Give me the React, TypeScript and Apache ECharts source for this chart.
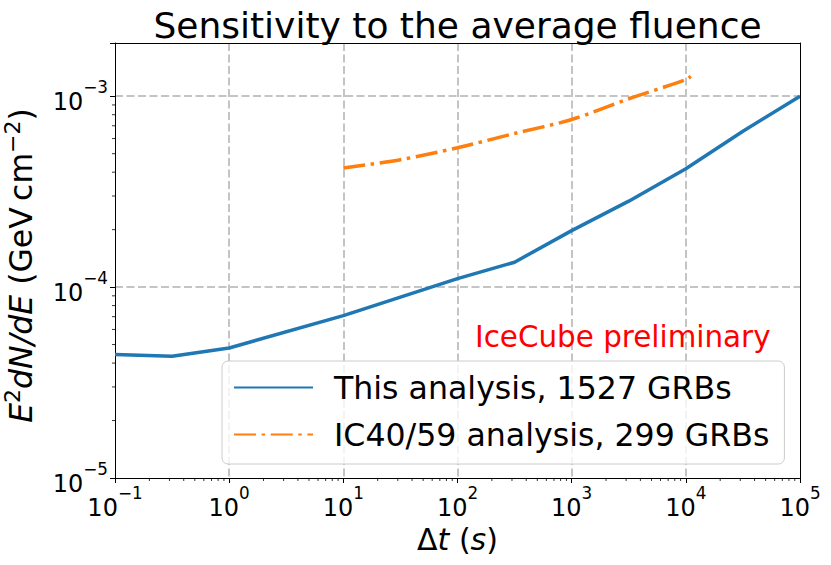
import React, { useEffect, useRef } from "react";
import * as echarts from "echarts";

// ---- data ----
const blueX = [0.1, 0.316, 1, 10, 100, 316, 1000, 3162, 10000, 31623, 100000];
const blueY = [4.43e-5, 4.34e-5, 4.8e-5, 7.09e-5, 1.108e-4, 1.35e-4, 1.977e-4, 2.82e-4, 4.17e-4, 6.56e-4, 1.0e-3];
const orangeX = [10, 31.6, 100, 316, 1000, 3162, 10000, 11070];
const orangeY = [4.21e-4, 4.65e-4, 5.37e-4, 6.38e-4, 7.55e-4, 9.7e-4, 1.22e-3, 1.27e-3];
const seriesNames = ["This analysis, 1527 GRBs", "IC40/59 analysis, 299 GRBs"];
const titleText = "Sensitivity to the average fluence";
const noteText = "IceCube preliminary";

// axis ranges and minor tick definitions
const xRange = [0.1, 100000];
const yRange = [1e-5, 1.9e-3];
const minorMultipliers = [2, 3, 4, 5, 6, 7, 8, 9];
const xDecades = [0.1, 1, 10, 100, 1000, 10000];
const yDecades = [1e-5, 1e-4, 1e-3];

const FONT = "DejaVu Sans";

function supLabel(v: number): string {
  const e = Math.log10(v);
  const r = Math.round(e);
  if (Math.abs(e - r) > 1e-6) return "";
  const s = r < 0 ? "\u2212" + -r : String(r);
  return "{b|10}{s|" + s + "}";
}

export default function App() {
  const ref = useRef<HTMLDivElement>(null);
  useEffect(() => {
    document.body.style.margin = "0";
    const chart = echarts.init(ref.current!, null, { renderer: "svg" });

    const minorData: number[][] = [];
    xDecades.forEach((d) =>
      minorMultipliers.forEach((m) => {
        const v = d * m;
        if (v < xRange[1]) minorData.push([v, yRange[0], 0]);
      })
    );
    yDecades.forEach((d) =>
      minorMultipliers.forEach((m) => {
        const v = d * m;
        if (v < yRange[1]) minorData.push([xRange[0], v, 1]);
      })
    );

    // both tokens fill the full line box: digits pushed down, superscript stays at top
    const labelRich = {
      b: { fontSize: 24, lineHeight: 24, fontFamily: FONT, color: "#000", padding: [11.5, 0, 0, 0] },
      s: { fontSize: 16.8, lineHeight: 17, fontFamily: FONT, color: "#000", padding: [0, 0, 18.5, 0] },
    };

    const gridLine = {
      show: true,
      showMinLine: false,
      showMaxLine: false,
      lineStyle: { color: "#c4c4c4", width: 2, type: [8, 3.5] },
    };

    const option: any = {
      animation: false,
      textStyle: { fontFamily: FONT },
      grid: {
        left: 115,
        top: 43,
        right: 31,
        bottom: 87,
        containLabel: false,
        outerBoundsMode: "none",
      },
      graphic: [
        {
          type: "text",
          x: 457.5,
          y: 25,
          style: {
            text: titleText,
            fontSize: 36,
            fontFamily: FONT,
            fill: "#000",
            align: "center",
            verticalAlign: "middle",
            textAlign: "center",
            textVerticalAlign: "middle",
          },
        },
        {
          type: "text",
          x: 475,
          y: 337,
          z: 10,
          style: {
            text: noteText,
            fontSize: 29.4,
            fontFamily: FONT,
            fill: "#ff0000",
            align: "left",
            verticalAlign: "middle",
            textAlign: "left",
            textVerticalAlign: "middle",
          },
        },
      ],
      legend: {
        data: seriesNames,
        orient: "vertical",
        left: 222,
        top: 361,
        itemWidth: 79,
        itemHeight: 14,
        itemGap: 12,
        padding: [9, 15, 12, 11],
        backgroundColor: "rgba(255,255,255,0.8)",
        borderColor: "#cccccc",
        borderWidth: 1,
        borderRadius: 6,
        itemStyle: { opacity: 0 },
        textStyle: { fontSize: 31.6, lineHeight: 35, fontFamily: FONT, color: "#000", padding: [0, 0, 0, 16] },
        selectedMode: false,
      },
      xAxis: [
        {
          type: "log",
          logBase: 10,
          min: xRange[0],
          max: xRange[1],
          position: "bottom",
          name: "{n|\u0394}{i|t}{n| (}{i|s}{n|)}",
          nameLocation: "middle",
          nameGap: 45,
          nameTextStyle: {
            rich: {
              n: { fontSize: 30, lineHeight: 30, fontFamily: FONT, color: "#000" },
              i: { fontSize: 30, lineHeight: 30, fontFamily: FONT, color: "#000", fontStyle: "italic" },
            },
          },
          axisLine: { show: true, onZero: false, lineStyle: { color: "#000", width: 1 } },
          axisTick: { show: true, length: 5, inside: false, lineStyle: { color: "#000", width: 1 } },
          axisLabel: { show: true, margin: 12, formatter: supLabel, rich: labelRich, showMinLabel: true, showMaxLabel: true, hideOverlap: false },
          splitLine: gridLine,
        },
        {
          type: "log",
          logBase: 10,
          min: xRange[0],
          max: xRange[1],
          position: "top",
          z: 10,
          axisLine: { show: true, onZero: false, lineStyle: { color: "#000", width: 1 } },
          axisTick: { show: false },
          axisLabel: { show: false },
          splitLine: { show: false },
        },
      ],
      yAxis: [
        {
          type: "log",
          logBase: 10,
          min: yRange[0],
          max: yRange[1],
          position: "left",
          name: "{i|E}{s|2}{i|dN/dE}{n| (GeV\u2009cm}{s|\u22122}{e|)}",
          nameLocation: "middle",
          nameRotate: 90,
          nameGap: 80,
          nameTextStyle: {
            rich: {
              n: { fontSize: 31.5, lineHeight: 32, fontFamily: FONT, color: "#000", padding: [3, 0, 0, 0] },
              e: { fontSize: 31.5, lineHeight: 32, fontFamily: FONT, color: "#000", padding: [3, 10, 0, 0] },
              i: { fontSize: 31.5, lineHeight: 32, fontFamily: FONT, color: "#000", fontStyle: "italic", padding: [3, 0, 0, 0] },
              s: { fontSize: 22, lineHeight: 22, fontFamily: FONT, color: "#000", padding: [0, 0, 13, 0] },
            },
          },
          axisLine: { show: true, onZero: false, lineStyle: { color: "#000", width: 1 } },
          axisTick: { show: true, length: 5, inside: false, lineStyle: { color: "#000", width: 1 } },
          axisLabel: { show: true, margin: 7, formatter: supLabel, rich: labelRich, showMinLabel: true, showMaxLabel: true, hideOverlap: false },
          splitLine: gridLine,
        },
        {
          type: "log",
          logBase: 10,
          min: yRange[0],
          max: yRange[1],
          position: "right",
          z: 10,
          axisLine: { show: true, onZero: false, lineStyle: { color: "#000", width: 1 } },
          axisTick: { show: false },
          axisLabel: { show: false },
          splitLine: { show: false },
        },
      ],
      series: [
        {
          name: seriesNames[0],
          type: "line",
          xAxisIndex: 0,
          yAxisIndex: 0,
          data: blueX.map((x, i) => [x, blueY[i]]),
          showSymbol: false,
          symbol: "none",
          color: "#1f77b4",
          lineStyle: { color: "#1f77b4", width: 3.5, type: "solid" },
          z: 3,
        },
        {
          name: seriesNames[1],
          type: "line",
          xAxisIndex: 0,
          yAxisIndex: 0,
          data: orangeX.map((x, i) => [x, orangeY[i]]),
          showSymbol: false,
          symbol: "none",
          smooth: 0.3,
          color: "#ff7f0e",
          lineStyle: { color: "#ff7f0e", width: 3.5, type: [22, 5.6, 3.5, 5.6] },
          z: 3,
        },
        {
          name: "minorTicks",
          type: "custom",
          xAxisIndex: 0,
          yAxisIndex: 0,
          silent: true,
          clip: false,
          encode: { x: 0, y: 1 },
          data: minorData,
          renderItem: (params: any, api: any) => {
            const p = api.coord([api.value(0), api.value(1)]);
            const isY = api.value(2) === 1;
            return {
              type: "line",
              shape: isY
                ? { x1: p[0] - 3, y1: p[1], x2: p[0], y2: p[1] }
                : { x1: p[0], y1: p[1], x2: p[0], y2: p[1] + 3 },
              style: { stroke: "#000", lineWidth: 0.8 },
            };
          },
          z: 10,
        },
      ],
    };
    chart.setOption(option);
    return () => chart.dispose();
  }, []);
  return <div ref={ref} style={{ width: 831, height: 565 }} />;
}
